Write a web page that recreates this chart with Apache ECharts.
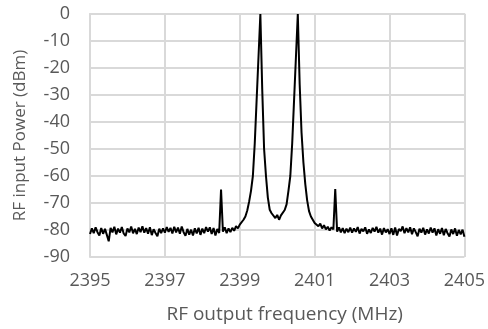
<!DOCTYPE html>
<html>
<head>
<meta charset="utf-8">
<script src="https://cdn.jsdelivr.net/npm/echarts@6/dist/echarts.min.js"></script>
<style>
html,body{margin:0;padding:0;background:#fff;}
#chart{width:488px;height:329px;}
</style>
</head>
<body>
<div id="chart"></div>
<script>
// Sampled spectrum: start frequency (MHz), sample step (MHz), power values (dBm)
var freqStart = 2395;
var freqStep = 0.05;
var power = [
  -81.5,-79.4,-81.2,-79.0,-80.8,-82.0,-79.3,-81.4,-79.6,-81.8,
  -84.2,-79.2,-80.9,-78.8,-81.6,-79.5,-81.0,-78.9,-81.3,-82.2,
  -79.4,-80.9,-78.7,-81.2,-79.6,-81.5,-79.1,-80.8,-78.6,-81.0,
  -79.3,-81.4,-79.0,-81.9,-79.7,-81.1,-82.3,-79.5,-81.2,-79.4,
  -81.0,-78.9,-80.7,-79.2,-81.3,-78.8,-80.9,-79.1,-81.4,-78.7,
  -80.8,-82.1,-79.6,-81.7,-79.9,-82.0,-79.4,-81.3,-79.2,-81.8,
  -79.5,-81.2,-78.9,-80.6,-79.0,-81.5,-79.3,-82.0,-79.6,-81.1,
  -65.0,-80.6,-79.0,-81.2,-79.4,-80.8,-79.2,-80.3,-78.6,-79.4,
  -78.0,-77.8,-76.2,-75.0,-72.8,-69.5,-65.5,-60.0,-48.0,-32.0,
  -16.0,  0.0,-28.0,-50.0,-60.0,-68.0,-72.5,-73.8,-74.2,-75.6,
  -74.4,-76.2,-74.6,-74.8,-72.6,-70.5,-65.5,-60.0,-48.0,-32.0,
  -16.0,  0.0,-26.0,-44.0,-55.0,-63.0,-69.0,-73.0,-75.0,-76.2,
  -77.4,-77.0,-78.6,-77.6,-79.4,-78.2,-79.8,-78.8,-80.2,-79.0,
  -79.8,-64.8,-80.6,-79.0,-80.9,-79.3,-81.2,-79.5,-80.8,-79.1,
  -81.0,-79.4,-80.7,-78.9,-81.3,-79.6,-80.5,-79.0,-81.4,-79.8,
  -81.1,-79.2,-80.6,-78.8,-81.0,-79.5,-81.7,-79.3,-80.9,-79.7,
  -81.5,-79.4,-81.8,-79.1,-82.0,-79.6,-80.4,-78.7,-81.2,-79.3,
  -80.9,-79.0,-81.6,-79.4,-80.8,-82.3,-79.5,-81.0,-79.2,-81.7,
  -79.8,-81.3,-79.1,-81.0,-79.4,-82.0,-79.7,-81.4,-79.3,-81.9,
  -79.6,-81.2,-82.4,-79.8,-81.5,-79.4,-82.1,-80.0,-81.6,-79.9,
  -82.5
];
var xTicks = [2395, 2397, 2399, 2401, 2403, 2405];
var yTicks = [-90, -80, -70, -60, -50, -40, -30, -20, -10, 0];
var xTitle = 'RF output frequency (MHz)';
var yTitle = 'RF input Power (dBm)';

var xBase = xTicks[0];
var points = power.map(function (p, i) { return [i * freqStep + (freqStart - xBase), p]; });

var font = '"Open Sans", sans-serif';
var textColor = '#595959';
var gridColor = '#d9d9d9';

var chart = echarts.init(document.getElementById('chart'), null, {renderer: 'canvas'});
chart.setOption({
  animation: false,
  backgroundColor: '#fff',
  grid: {left: 90, right: 23, top: 14, bottom: 71, containLabel: false},
  xAxis: {
    type: 'value',
    min: 0,
    max: xTicks[xTicks.length - 1] - xBase,
    interval: xTicks[1] - xTicks[0],
    name: xTitle,
    nameLocation: 'middle',
    nameGap: 48,
    nameTextStyle: {color: textColor, fontSize: 19, fontFamily: font, padding: [0, 0, 0, 15]},
    axisLine: {show: true, lineStyle: {color: gridColor, width: 2}},
    axisTick: {show: false},
    axisLabel: {color: textColor, fontSize: 18, fontFamily: font, margin: 15,
      formatter: function (v) { return String(Math.round(v + xBase)); }},
    splitLine: {show: true, lineStyle: {color: gridColor, width: 2}}
  },
  yAxis: {
    type: 'value',
    min: yTicks[0],
    max: yTicks[yTicks.length - 1],
    interval: 10,
    name: yTitle,
    nameLocation: 'middle',
    nameGap: 61,
    nameRotate: 90,
    nameTextStyle: {color: textColor, fontSize: 17, fontFamily: font},
    axisLine: {show: true, lineStyle: {color: gridColor, width: 2}},
    axisTick: {show: false},
    axisLabel: {color: textColor, fontSize: 18, fontFamily: font, margin: 20},
    splitLine: {show: true, lineStyle: {color: gridColor, width: 2}}
  },
  series: [{
    type: 'line',
    data: points,
    showSymbol: false,
    symbol: 'none',
    lineStyle: {color: '#000', width: 2},
    z: 5
  }]
});
</script>
</body>
</html>
